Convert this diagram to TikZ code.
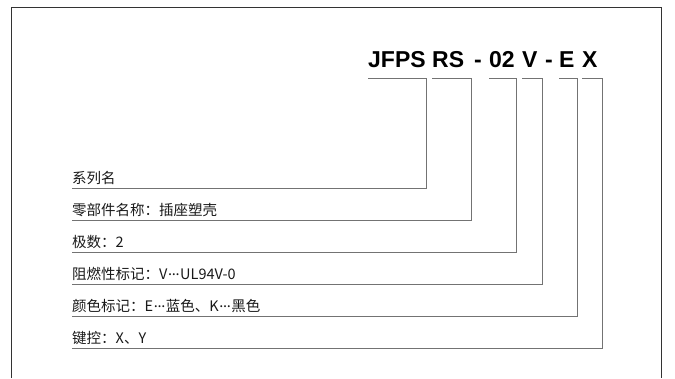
\documentclass[tikz,border=0pt]{standalone}
\usepackage{fontspec}
\newfontfamily\codefont{Liberation Sans}
\newfontfamily\cjk{Noto Sans CJK SC}
% raised dots as printed between code letter and meaning
\newcommand\middots{\raisebox{0.3em}{\kern0.04em.\kern-0.02em.\kern-0.02em.}\kern0.04em}
\begin{document}
\begin{tikzpicture}[x=1pt, y=-1pt]
    % Define styles
    \tikzset{
        code/.style={
            anchor=base west,
            inner sep=0pt,
            font=\codefont\bfseries\fontsize{23}{23}\selectfont
        },
        desc/.style={
            anchor=base west,
            inner sep=0pt,
            text=black!90,
            font=\cjk\fontsize{14.5}{14.5}\selectfont
        },
        lead/.style={
            draw=black!55,
            line width=0.9pt
        },
        frame/.style={
            draw=black!80,
            line width=0.9pt
        }
    }
    \useasboundingbox (0,0) rectangle (675,378);

    % Outer frame (open at the bottom)
    \draw[frame] (11.5,378) -- (11.5,7.5) -- (661,7.5) -- (661,378);

    % Dashes of the part number
    \node[code] (dash1) at (474,67.5) {-};
    \node[code] (dash2) at (545,67.5) {-};

    % Code groups, brackets and descriptions
    \foreach \i/\code/\xa/\xb/\yl/\desc in {
        1/JFPS/368/426/188/系列名,
        2/RS/432/471/220/零部件名称：插座塑壳,
        3/02/489/516/252/极数：2,
        4/V/522/542/284/阻燃性标记：V\middots UL94V-0,
        5/E/559/577/316/颜色标记：E\middots 蓝色、K\middots 黑色,
        6/X/582/602/348/键控：X、Y}
    {
        \node[code] (tok\i) at (\xa,67.5) {\code};
        \coordinate (bend\i) at (\xb,78);
        \node[desc] (lab\i) at (72,\yl-4.5) {\desc};
        \draw[lead] (tok\i.base west |- bend\i) -- (bend\i)
            |- ([yshift=-4.5pt]lab\i.base west);
    }
\end{tikzpicture}
\end{document}
